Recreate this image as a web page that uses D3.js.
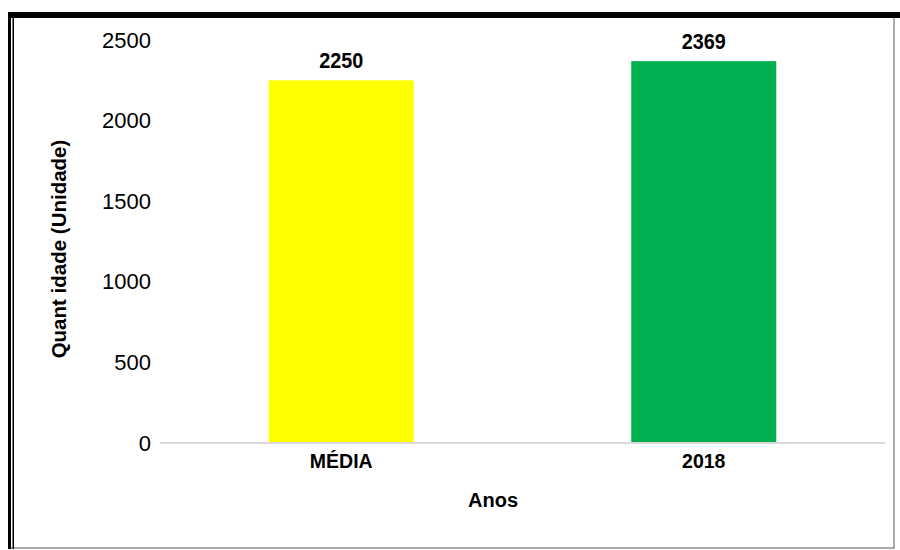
<!DOCTYPE html>
<html>
<head>
<meta charset="utf-8">
<script src="https://cdn.jsdelivr.net/npm/d3@7"></script>
<style>
  body { margin: 0; background: #fff; }
  svg { display: block; }
  .bold { font-family: "Liberation Sans", Arial, sans-serif; font-weight: bold; fill: #000; }
</style>
</head>
<body>
<svg id="chart"></svg>
<script>
const categories = ['MÉDIA', '2018'];
const values = [2250, 2369];
const colors = ['#ffff00', '#00b050'];
const yTicks = [0, 500, 1000, 1500, 2000, 2500];

const W = 900, H = 550;
const margin = { top: 40, right: 15, bottom: 107, left: 160 };
const width = W - margin.left - margin.right;
const height = H - margin.top - margin.bottom;

const svg = d3.select('#chart')
    .attr('width', W)
    .attr('height', H);

// frame
svg.append('rect')
    .attr('x', 8.5).attr('y', 15)
    .attr('width', 885.5).attr('height', 533)
    .attr('fill', 'none')
    .attr('stroke', '#555')
    .attr('stroke-width', 1);
svg.append('rect')
    .attr('x', 8).attr('y', 12)
    .attr('width', 892).attr('height', 6)
    .attr('fill', '#000');
svg.append('rect')
    .attr('x', 8).attr('y', 12)
    .attr('width', 3).attr('height', 537)
    .attr('fill', '#000');
svg.append('rect')
    .attr('x', 12.5).attr('y', 12)
    .attr('width', 1.5).attr('height', 537)
    .attr('fill', '#000');

const g = svg.append('g')
    .attr('transform', 'translate(' + margin.left + ',' + margin.top + ')');

const x = d3.scaleBand()
    .domain(categories)
    .range([0, width])
    .padding(0);

const y = d3.scaleLinear()
    .domain([0, 2500])
    .range([height, 0]);

const barW = x.bandwidth() * 0.4;

// y axis labels only
const yAxis = d3.axisLeft(y).tickValues(yTicks).tickFormat(d3.format('d')).tickSize(0).tickPadding(9);
const yG = g.append('g').call(yAxis);
yG.select('.domain').remove();
yG.selectAll('text')
    .attr('font-family', '"Liberation Sans", Arial, sans-serif')
    .attr('font-size', 22)
    .attr('fill', '#000');

// bars
g.selectAll('.bar')
    .data(values)
    .join('rect')
    .attr('class', 'bar')
    .attr('x', (d, i) => x(categories[i]) + x.bandwidth() / 2 - barW / 2)
    .attr('y', d => y(d))
    .attr('width', barW)
    .attr('height', d => height - y(d))
    .attr('fill', (d, i) => colors[i]);

// baseline
g.append('line')
    .attr('x1', 0).attr('x2', width)
    .attr('y1', y(0)).attr('y2', y(0))
    .attr('stroke', '#d9d9d9')
    .attr('stroke-width', 2);

// value labels (slightly condensed, like the original narrow font)
g.selectAll('.val')
    .data(values)
    .join('text')
    .attr('class', 'val bold')
    .attr('transform', (d, i) =>
        'translate(' + (x(categories[i]) + x.bandwidth() / 2) + ',' + (y(d) - 12) + ') scale(0.9,1)')
    .attr('text-anchor', 'middle')
    .attr('font-size', 22)
    .text(d => d);

// x category labels
const xAxis = d3.axisBottom(x).tickSize(0).tickPadding(10);
const xG = g.append('g')
    .attr('transform', 'translate(0,' + height + ')')
    .call(xAxis);
xG.select('.domain').remove();
xG.selectAll('text')
    .attr('class', 'bold')
    .attr('font-size', 19.5)
    .attr('dy', '0.75em');

// axis titles
svg.append('text')
    .attr('class', 'bold')
    .attr('x', 493).attr('y', 507)
    .attr('text-anchor', 'middle')
    .attr('font-size', 20)
    .text('Anos');

svg.append('text')
    .attr('class', 'bold')
    .attr('transform', 'translate(66,249) rotate(-90)')
    .attr('text-anchor', 'middle')
    .attr('font-size', 20.5)
    .text('Quant idade (Unidade)');
</script>
</body>
</html>
